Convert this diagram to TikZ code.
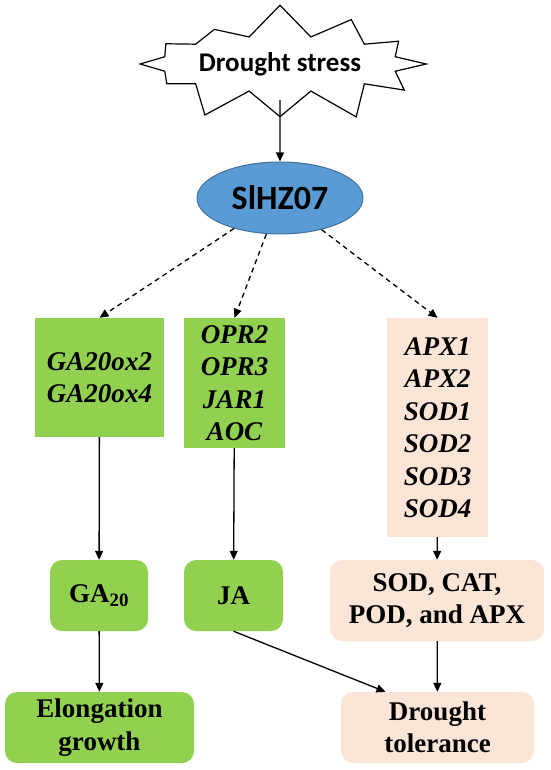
\documentclass[tikz,border=0pt]{standalone}
\usepackage{fontspec}
\setmainfont{Liberation Serif}
\newfontfamily\calibri{Carlito}
\usetikzlibrary{shapes.geometric,shapes.symbols,arrows.meta}
\definecolor{leafgreen}{HTML}{92D050}
\definecolor{peach}{HTML}{FBE5D6}
\definecolor{hzblue}{HTML}{5B9BD5}
\definecolor{hzedge}{HTML}{41719C}
\tikzset{
  gene/.style={fill=leafgreen, inner sep=0pt, align=center,
    font=\fontsize{27}{32.5}\selectfont\bfseries\itshape},
  product/.style={gene, rounded corners=12pt, font=\fontsize{27}{32.5}\selectfont\bfseries},
  flow/.style={-{Triangle[length=9pt,width=8pt]}, line width=1.3pt}
}
\begin{document}
\begin{tikzpicture}[x=1pt,y=-1pt]
  \useasboundingbox (0,0) rectangle (550,770);
  % stress and regulator
  \node[starburst, draw, line width=1.2pt, fill=white, minimum width=205pt,
        minimum height=124pt, starburst points=12, starburst point height=34pt,
        random starburst=7,
        font=\calibri\fontsize{27}{30}\selectfont\bfseries] (stress) at (280,64) {Drought stress};
  \node[ellipse, draw=hzedge, line width=1pt, fill=hzblue, minimum width=166pt,
        minimum height=72pt, inner sep=0pt,
        font=\calibri\fontsize{34}{38}\selectfont\bfseries] (hz) at (280,198) {SlHZ07};
  % target genes
  \node[gene, minimum width=129pt, minimum height=119pt] (ga) at (99.5,377.5) {GA20ox2\\GA20ox4};
  \node[gene, minimum width=101pt, minimum height=130pt] (ja) at (234.5,383) {OPR2\\OPR3\\JAR1\\AOC};
  \node[gene, fill=peach, minimum width=101pt, minimum height=219pt] (apx) at (437.5,427.5)
        {APX1\\APX2\\SOD1\\SOD2\\SOD3\\SOD4};
  % products
  \node[product, minimum width=98pt, minimum height=71pt] (ga20) at (99,595.5) {GA\textsubscript{20}};
  \node[product, minimum width=99pt, minimum height=71pt] (jaa) at (233.5,595.5) {JA};
  \node[product, fill=peach, minimum width=214pt, minimum height=81pt] (sod) at (437,600.5)
        {SOD, CAT,\\POD, and APX};
  % outcomes
  \node[product, minimum width=189pt, minimum height=71pt] (elong) at (99.5,727.5) {Elongation\\growth};
  \node[product, fill=peach, minimum width=193pt, minimum height=71pt] (tol) at (437.5,727.5)
        {Drought\\tolerance};

  \draw[flow] (stress.south |- 0,100) -- (hz.north);
  \begin{scope}[flow, dashed, dash pattern=on 5pt off 4pt]
    \draw (hz) -- (ga.north);
    \draw (hz) -- (ja.north);
    \draw (hz) -- (apx.north);
  \end{scope}
  \draw[flow] (ga) -- (ga20);
  \draw[flow] (ja) -- (jaa);
  \draw[flow] (apx) -- (sod);
  \draw[flow] (ga20) -- (elong);
  \draw[flow] (sod) -- (tol);
  \draw[flow] (jaa.south) -- ([xshift=-52pt]tol.north);
\end{tikzpicture}
\end{document}
